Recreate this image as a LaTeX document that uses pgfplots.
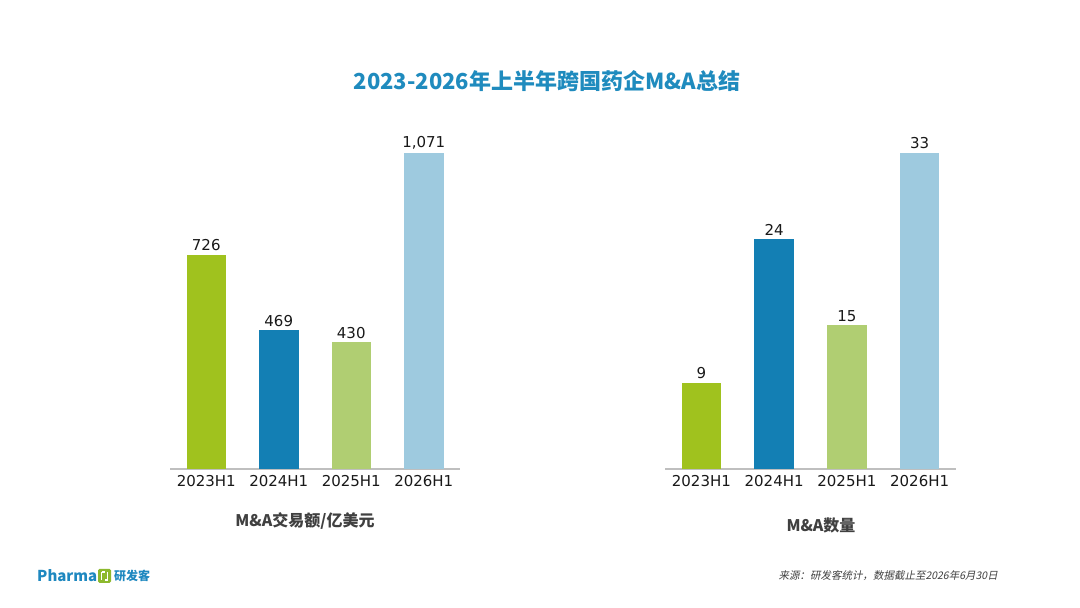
\documentclass[border=0pt]{standalone}
\usepackage{fontspec}
\usepackage{pgfplots}
\pgfplotsset{compat=1.18}
\setmainfont{DejaVu Sans}
\newfontfamily\cjk{Noto Sans CJK SC}
\newfontfamily\cjkit{Noto Sans CJK SC}[FakeSlant=0.2]
\definecolor{cA}{HTML}{A0C21E}
\definecolor{cB}{HTML}{137FB4}
\definecolor{cC}{HTML}{B0CE72}
\definecolor{cD}{HTML}{9ECADF}
\definecolor{axgray}{HTML}{BFBFBF}
\definecolor{titleblue}{HTML}{1F8BBE}
\definecolor{labgray}{HTML}{404040}
\definecolor{logoblue}{HTML}{1E88C0}
\definecolor{logogreen}{HTML}{8DB92E}
\pgfplotsset{
  mybars/.style={
    scale only axis, width=290pt, height=340pt,
    xmin=-0.5, xmax=3.5, ymin=0,
    axis x line*=bottom, axis y line=none,
    ybar, bar width=39.5pt,
    xtick={0,1,2,3}, xticklabels={2023H1,2024H1,2025H1,2026H1},
    major tick length=0pt,
    x axis line style={draw=axgray, line width=1.2pt},
    xticklabel style={font=\fontsize{15}{18}\selectfont, text=black!90, yshift=-3pt},
    nodes near coords,
    every node near coord/.append style={font=\fontsize{15}{18}\selectfont, text=black!90},
    /pgf/number format/1000 sep={,},
    /pgf/number format/assume math mode=true,
    clip=false,
  }
}
\begin{document}
\begin{tikzpicture}[x=1pt,y=1pt]
\fill[white] (0,0) rectangle (1080,608);
\begin{axis}[mybars, at={(170pt,139pt)}, anchor=south west, ymax=1151]
\addplot[fill=cA, draw=none, bar shift=0pt] coordinates {(0,726)};
\addplot[fill=cB, draw=none, bar shift=0pt] coordinates {(1,469)};
\addplot[fill=cC, draw=none, bar shift=0pt] coordinates {(2,430)};
\addplot[fill=cD, draw=none, bar shift=0pt] coordinates {(3,1071)};
\end{axis}
\begin{axis}[mybars, at={(665pt,139pt)}, anchor=south west, width=291pt, ymax=35.47]
\addplot[fill=cA, draw=none, bar shift=0pt] coordinates {(0,9)};
\addplot[fill=cB, draw=none, bar shift=0pt] coordinates {(1,24)};
\addplot[fill=cC, draw=none, bar shift=0pt] coordinates {(2,15)};
\addplot[fill=cD, draw=none, bar shift=0pt] coordinates {(3,33)};
\end{axis}
% title
\node[font=\cjk\bfseries\fontsize{22}{26}\selectfont, text=titleblue] at (547,527) {2023-2026年上半年跨国药企M\&A总结};
% axis captions
\node[font=\cjk\bfseries\fontsize{16}{19}\selectfont, text=labgray] at (305,87) {M\&A交易额/亿美元};
\node[font=\cjk\bfseries\fontsize{16}{19}\selectfont, text=labgray] at (821,83) {M\&A数量};
% logo
\node[font=\cjk\bfseries\fontsize{15}{18}\selectfont, text=logoblue, anchor=west, inner sep=0pt] at (37,32) {Pharma};
\fill[logogreen, rounded corners=1.5pt] (98,25) rectangle (111,39);
\draw[white, line width=1.3pt] (101.5,28) -- (101.5,36) (101.5,36) -- (104.5,36);
\draw[white, line width=1.3pt] (107.5,28) -- (107.5,36) (107.5,28) -- (104.5,28);
\node[font=\cjk\bfseries\fontsize{12}{14}\selectfont, text=logoblue, anchor=west, inner sep=0pt] at (114,32) {研发客};
% source
\node[font=\cjkit\fontsize{10.5}{12}\selectfont, text=labgray, anchor=east, inner sep=0pt] at (998,32) {来源：研发客统计，数据截止至2026年6月30日};
\end{tikzpicture}
\end{document}
